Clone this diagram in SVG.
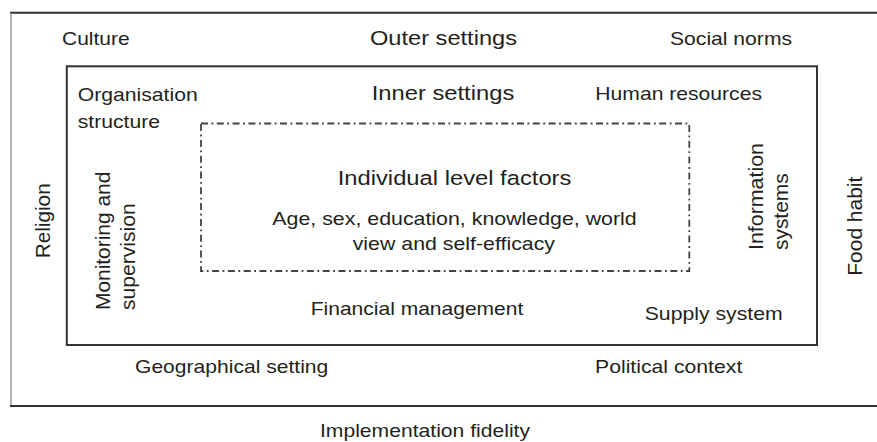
<svg xmlns="http://www.w3.org/2000/svg" width="877" height="442" viewBox="0 0 877 442">
<style>
  text { font-family: "Liberation Sans", Arial, sans-serif; fill: #231f20; }
  .s { font-size: 17.7px; }
  .h { font-size: 19.7px; }
  .r { font-size: 21px; }
  .solid { fill: none; stroke: #333; stroke-width: 2; }
  .thin { fill: none; stroke: #8a8a8a; stroke-width: 1.3; }
  .dashdot { fill: none; stroke: #444; stroke-width: 1.8; stroke-dasharray: 7 3.5 1.8 3.5; }
</style>
<rect width="877" height="442" fill="#ffffff"/>

<g id="outer-settings">
  <line class="solid" x1="10" y1="12.7" x2="877" y2="12.7"/>
  <line class="thin" x1="11" y1="12.7" x2="11" y2="406"/>
  <line class="solid" x1="10" y1="406" x2="877" y2="406"/>
  <text class="h" transform="translate(370 45) scale(1.2 1)" textLength="122.5" lengthAdjust="spacingAndGlyphs">Outer settings</text>
</g>

<g id="culture"><text class="s" transform="translate(62 45) scale(1.2 1)" textLength="56.4" lengthAdjust="spacingAndGlyphs">Culture</text></g>
<g id="social-norms"><text class="s" transform="translate(670 45) scale(1.2 1)" textLength="101.7" lengthAdjust="spacingAndGlyphs">Social norms</text></g>
<g id="religion"><text class="r" text-anchor="middle" transform="translate(50 220.8) rotate(-90)" textLength="75" lengthAdjust="spacingAndGlyphs">Religion</text></g>
<g id="food-habit"><text class="r" text-anchor="middle" transform="translate(861.7 226.2) rotate(-90)" textLength="99" lengthAdjust="spacingAndGlyphs">Food habit</text></g>
<g id="geographical-setting"><text class="s" transform="translate(135 373.3) scale(1.2 1)" textLength="161.1" lengthAdjust="spacingAndGlyphs">Geographical setting</text></g>
<g id="political-context"><text class="s" transform="translate(595 373.3) scale(1.2 1)" textLength="122.75" lengthAdjust="spacingAndGlyphs">Political context</text></g>
<g id="implementation-fidelity"><text class="s" transform="translate(320 437) scale(1.2 1)" textLength="175" lengthAdjust="spacingAndGlyphs">Implementation fidelity</text></g>

<g id="inner-settings">
  <rect class="solid" x="66.8" y="66.3" width="750.2" height="278.7"/>
  <text class="h" transform="translate(371.7 99.5) scale(1.2 1)" textLength="118.8" lengthAdjust="spacingAndGlyphs">Inner settings</text>
</g>

<g id="organisation-structure">
  <text class="s" transform="translate(77.7 101) scale(1.2 1)" textLength="100" lengthAdjust="spacingAndGlyphs">Organisation</text>
  <text class="s" transform="translate(77.7 127.5) scale(1.2 1)" textLength="68.6" lengthAdjust="spacingAndGlyphs">structure</text>
</g>
<g id="human-resources"><text class="s" transform="translate(595.3 100) scale(1.2 1)" textLength="138.9" lengthAdjust="spacingAndGlyphs">Human resources</text></g>
<g id="monitoring-supervision">
  <text class="r" transform="translate(110 310) rotate(-90)" textLength="138.3" lengthAdjust="spacingAndGlyphs">Monitoring and</text>
  <text class="r" transform="translate(135 310) rotate(-90)" textLength="106.7" lengthAdjust="spacingAndGlyphs">supervision</text>
</g>
<g id="information-systems">
  <text class="r" transform="translate(762.7 250) rotate(-90)" textLength="107" lengthAdjust="spacingAndGlyphs">Information</text>
  <text class="r" transform="translate(788.3 250) rotate(-90)" textLength="76.7" lengthAdjust="spacingAndGlyphs">systems</text>
</g>
<g id="financial-management"><text class="s" transform="translate(310.7 314.5) scale(1.2 1)" textLength="177.2" lengthAdjust="spacingAndGlyphs">Financial management</text></g>
<g id="supply-system"><text class="s" transform="translate(644.7 320) scale(1.2 1)" textLength="115" lengthAdjust="spacingAndGlyphs">Supply system</text></g>

<g id="individual-level-factors">
  <rect class="dashdot" x="201" y="123.5" width="488.3" height="147.5"/>
  <text class="h" transform="translate(337.7 185) scale(1.2 1)" textLength="194.75" lengthAdjust="spacingAndGlyphs">Individual level factors</text>
  <text class="s" transform="translate(272.3 225) scale(1.2 1)" textLength="303.7" lengthAdjust="spacingAndGlyphs">Age, sex, education, knowledge, world</text>
  <text class="s" transform="translate(352.7 250) scale(1.2 1)" textLength="168.6" lengthAdjust="spacingAndGlyphs">view and self-efficacy</text>
</g>
</svg>
